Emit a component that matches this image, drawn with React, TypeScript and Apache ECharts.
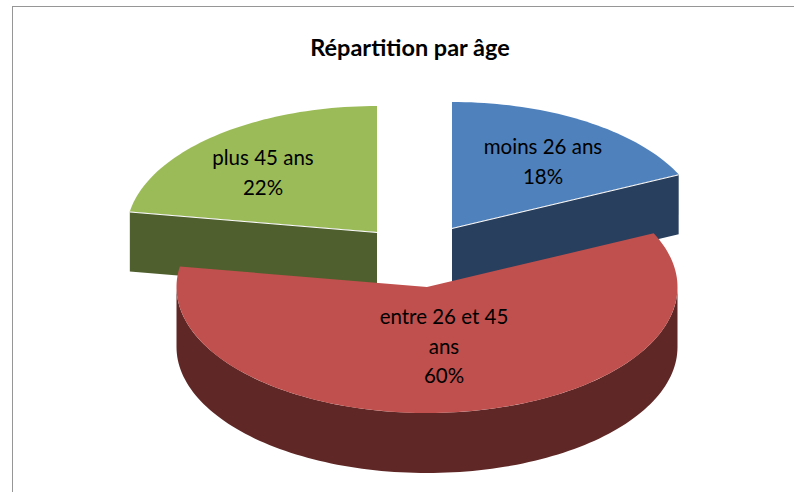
import React, { useEffect, useRef } from "react";
import * as echarts from "echarts";

const TITLE = "Répartition par âge";
const categories = ["moins 26 ans", "entre 26 et 45 ans", "plus 45 ans"];
const labelLines = [["moins 26 ans"], ["entre 26 et 45", "ans"], ["plus 45 ans"]];
const shares = [18, 59.6, 22.4];

const topColors = ["#4F81BD", "#C0504D", "#9BBB59"];
const wallColors = ["#283F5E", "#5F2826", "#4F5F2E"];
const centres = [[452, 228], [427, 287], [377, 232]];
const labelCentres = [[543, 146], [444, 316], [263, 157]];
const drawOrder = [1, 10, 1];
const RX = 250.5;
const RY = 126;
const DEPTH = 60;
const LINE = 29.5;
const FONT = "20.5px Lato, 'Open Sans', sans-serif";

const total = shares.reduce((a, b) => a + b, 0);

function pt(c: number[], deg: number, dy = 0): number[] {
  const r = (deg * Math.PI) / 180;
  return [c[0] + RX * Math.sin(r), c[1] - RY * Math.cos(r) + dy];
}

function arc(c: number[], from: number, to: number, dy = 0): number[][] {
  const out: number[][] = [];
  const n = Math.max(2, Math.ceil(Math.abs(to - from) / 1.5));
  for (let i = 0; i <= n; i++) out.push(pt(c, from + ((to - from) * i) / n, dy));
  return out;
}

function renderItem(params: any, api: any) {
  const i = params.dataIndex;
  let before = 0;
  for (let k = 0; k < i; k++) before += shares[k];
  const from = (before / total) * 360;
  const to = from + (api.value(0) / total) * 360;
  const c = centres[i];
  const z = drawOrder[i];
  const children: any[] = [];

  const wall = (points: number[][]) =>
    children.push({ type: "polygon", z2: z, shape: { points }, style: { fill: wallColors[i] } });

  // outer rim: only the part on the front half is visible
  const a = Math.max(from, 90);
  const b = Math.min(to, 270);
  if (b > a) wall([...arc(c, a, b), ...arc(c, b, a, DEPTH)]);

  // cut faces, drawn only where they look to the viewer
  if (to < 90) {
    const p = pt(c, to);
    wall([[c[0], c[1]], p, [p[0], p[1] + DEPTH], [c[0], c[1] + DEPTH]]);
  }
  if (from > 270) {
    const p = pt(c, from);
    wall([[c[0], c[1]], p, [p[0], p[1] + DEPTH], [c[0], c[1] + DEPTH]]);
  }

  children.push({
    type: "polygon",
    z2: z + 1,
    shape: { points: [[c[0], c[1]], ...arc(c, from, to)] },
    style: { fill: topColors[i] },
  });

  // thin white highlight between the top face and the cut face
  if (i !== 1) {
    const p = pt(c, i === 0 ? to : from);
    children.push({
      type: "line",
      z2: z + 2,
      shape: { x1: c[0], y1: c[1] + 0.5, x2: p[0], y2: p[1] + 0.5 },
      style: { stroke: "#FFFFFF", lineWidth: 1 },
    });
  }

  const lines = [...labelLines[i], `${Math.round(api.value(0))}%`];
  lines.forEach((text, k) => {
    children.push({
      type: "text",
      z2: 30,
      style: {
        text,
        x: labelCentres[i][0],
        y: labelCentres[i][1] + k * LINE,
        font: FONT,
        fill: "#000000",
        align: "center",
        verticalAlign: "middle",
      },
    });
  });

  return { type: "group", children };
}

export default function App() {
  const ref = useRef<HTMLDivElement>(null);
  useEffect(() => {
    document.body.style.margin = "0";
    const chart = echarts.init(ref.current!, undefined, { renderer: "svg" });
    chart.setOption({
      animation: false,
      backgroundColor: "#FFFFFF",
      title: {
        text: TITLE,
        left: 405,
        top: 30,
        textAlign: "center",
        textStyle: { fontFamily: "Lato, 'Open Sans', sans-serif", fontWeight: "bold", fontSize: 23.5, color: "#000000" },
      },
      graphic: [
        { type: "line", silent: true, shape: { x1: 12, y1: 6.5, x2: 794, y2: 6.5 }, style: { stroke: "#969696", lineWidth: 1 } },
        { type: "line", silent: true, shape: { x1: 12.5, y1: 6, x2: 12.5, y2: 492 }, style: { stroke: "#969696", lineWidth: 1 } },
      ],
      series: [
        {
          type: "custom",
          coordinateSystem: "none",
          silent: true,
          renderItem,
          data: shares.map((v, i) => ({ name: categories[i], value: [v] })),
        },
      ],
    });
    return () => chart.dispose();
  }, []);
  return <div ref={ref} style={{ width: 794, height: 492 }} />;
}
